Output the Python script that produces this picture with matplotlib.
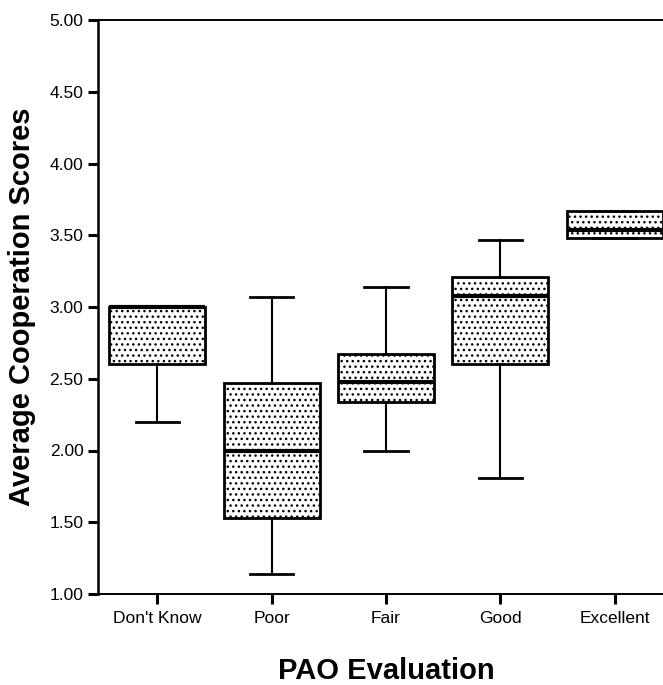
import matplotlib
matplotlib.use('Agg')
import matplotlib.pyplot as plt

plt.rcParams['font.family'] = ['Liberation Sans', 'DejaVu Sans']
plt.rcParams['hatch.linewidth'] = 1.0

# 数据
categories = ["Don't Know", 'Poor', 'Fair', 'Good', 'Excellent']
whis_lo = [2.20, 1.14, 2.00, 1.81, 3.48]
q1 = [2.60, 1.53, 2.34, 2.60, 3.48]
median = [3.00, 2.00, 2.48, 3.08, 3.54]
q3 = [3.00, 2.47, 2.67, 3.21, 3.67]
whis_hi = [3.00, 3.07, 3.14, 3.47, 3.67]
y_ticks = [1.00, 1.50, 2.00, 2.50, 3.00, 3.50, 4.00, 4.50, 5.00]

stats = []
for i, name in enumerate(categories):
    stats.append({'label': name, 'whislo': whis_lo[i], 'q1': q1[i], 'med': median[i],
                  'q3': q3[i], 'whishi': whis_hi[i], 'fliers': []})

fig = plt.figure(figsize=(6.63, 6.85), dpi=100)
ax = fig.add_axes([98 / 663, 91 / 685, 576 / 663, 574 / 685])

pos = list(range(len(categories)))
ax.bxp(stats, positions=pos, widths=0.84, capwidths=0.38, patch_artist=True,
       showfliers=False,
       boxprops=dict(facecolor='white', edgecolor='black', linewidth=2.0, hatch='...'),
       medianprops=dict(color='black', linewidth=3.0),
       whiskerprops=dict(color='black', linewidth=1.5),
       capprops=dict(color='black', linewidth=2.0))

ax.set_xlim(-0.52, 4.52)
ax.set_ylim(1.0, 5.0)
ax.set_yticks(y_ticks)
ax.set_yticklabels([f'{v:.2f}' for v in y_ticks])
ax.set_xticks(pos)
ax.set_xticklabels(categories)

ax.spines['right'].set_visible(False)
ax.spines['left'].set_linewidth(1.8)
ax.spines['bottom'].set_linewidth(1.4)
ax.spines['top'].set_linewidth(1.4)
ax.tick_params(axis='y', direction='out', length=7.5, width=2.2, labelsize=12.5, pad=3)
ax.tick_params(axis='x', direction='out', length=7.5, width=2.2, labelsize=12.5, pad=5)

ax.set_ylabel('Average Cooperation Scores', fontsize=21, fontweight='bold', labelpad=10)
ax.set_xlabel('PAO Evaluation', fontsize=21, fontweight='bold', labelpad=22)

plt.savefig('out.png', dpi=100)
